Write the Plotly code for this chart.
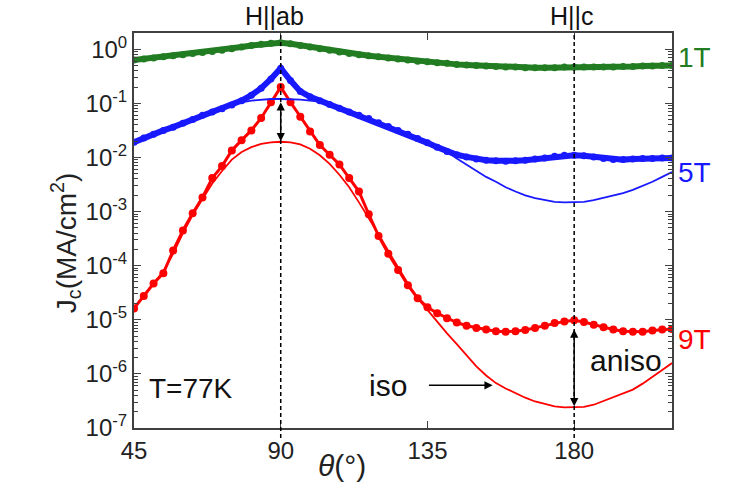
import numpy as np
import plotly.graph_objects as go

# Field angle grid (degrees)
theta = list(range(45, 211, 3))

# log10 of Jc (MA/cm^2), measured data
log_jc_1t = [-0.20, -0.18, -0.16, -0.14, -0.12, -0.10, -0.08, -0.06, -0.04, -0.02,
             0.01, 0.04, 0.07, 0.09, 0.11, 0.12, 0.10, 0.07, 0.04, 0.01,
             -0.02, -0.05, -0.08, -0.10, -0.12, -0.14, -0.16, -0.18, -0.20, -0.22,
             -0.23, -0.25, -0.26, -0.28, -0.29, -0.30, -0.31, -0.32, -0.33, -0.33,
             -0.34, -0.34, -0.34, -0.34, -0.33, -0.33, -0.33, -0.33, -0.33, -0.33,
             -0.32, -0.32, -0.31, -0.31, -0.30, -0.30]

log_jc_5t = [-1.72, -1.64, -1.57, -1.50, -1.44, -1.37, -1.30, -1.22, -1.16, -1.10,
             -1.03, -0.95, -0.85, -0.72, -0.55, -0.35, -0.58, -0.78, -0.88, -0.95,
             -1.02, -1.09, -1.16, -1.22, -1.28, -1.36, -1.43, -1.50, -1.57, -1.65,
             -1.73, -1.81, -1.89, -1.95, -1.99, -2.03, -2.05, -2.06, -2.07, -2.06,
             -2.05, -2.03, -2.01, -1.98, -1.96, -1.96, -1.97, -1.99, -2.02, -2.04,
             -2.04, -2.03, -2.02, -2.02, -2.01, -2.01]

log_jc_9t = [-4.79, -4.56, -4.33, -4.14, -3.72, -3.35, -3.03, -2.74, -2.38, -2.16,
             -1.87, -1.68, -1.50, -1.27, -0.98, -0.70, -0.98, -1.25, -1.52, -1.77,
             -1.95, -2.13, -2.38, -2.63, -3.05, -3.45, -3.78, -4.08, -4.36, -4.60,
             -4.77, -4.88, -4.97, -5.05, -5.11, -5.15, -5.18, -5.21, -5.22, -5.21,
             -5.19, -5.15, -5.11, -5.06, -5.03, -5.01, -5.04, -5.09, -5.14, -5.18,
             -5.21, -5.22, -5.22, -5.20, -5.18, -5.17]

# log10 of Jc, isotropic (fitted) curves
log_iso_5t = [-1.72, -1.64, -1.57, -1.50, -1.44, -1.37, -1.30, -1.22, -1.16, -1.10,
              -1.03, -0.98, -0.95, -0.93, -0.92, -0.92, -0.92, -0.93, -0.95, -0.97,
              -1.02, -1.09, -1.16, -1.22, -1.28, -1.36, -1.43, -1.50, -1.57, -1.65,
              -1.73, -1.81, -1.89, -2.02, -2.13, -2.25, -2.36, -2.45, -2.55, -2.63,
              -2.70, -2.75, -2.79, -2.82, -2.83, -2.83, -2.82, -2.79, -2.75, -2.71,
              -2.66, -2.60, -2.53, -2.45, -2.36, -2.27]

log_iso_9t = [-4.79, -4.56, -4.33, -4.10, -3.78, -3.40, -3.06, -2.78, -2.48, -2.25,
              -2.04, -1.90, -1.81, -1.75, -1.72, -1.71, -1.72, -1.76, -1.84, -1.96,
              -2.12, -2.32, -2.55, -2.83, -3.12, -3.42, -3.73, -4.04, -4.33, -4.60,
              -4.82, -5.04, -5.25, -5.45, -5.66, -5.86, -6.03, -6.17, -6.27, -6.36,
              -6.44, -6.51, -6.56, -6.60, -6.62, -6.62, -6.61, -6.57, -6.50, -6.44,
              -6.37, -6.29, -6.18, -6.06, -5.93, -5.80]

y_tick_exponents = [0, -1, -2, -3, -4, -5, -6, -7]
x_ticks = [45, 90, 135, 180]

GREEN = "rgb(34,125,34)"
BLUE = "rgb(25,25,255)"
RED = "rgb(255,0,0)"
FONT = "Liberation Sans, Arial, sans-serif"

def jc(vals):
    return 10 ** np.array(vals)

fig = go.Figure()

for vals, color, lw, ms in [(log_jc_1t, GREEN, 6, 7), (log_jc_5t, BLUE, 6, 7), (log_jc_9t, RED, 3, 8)]:
    fig.add_trace(go.Scatter(x=theta, y=jc(vals), mode="lines+markers",
                             line=dict(color=color, width=lw),
                             marker=dict(color=color, size=ms, symbol="circle"),
                             showlegend=False))

for vals, color in [(log_iso_5t, BLUE), (log_iso_9t, RED)]:
    fig.add_trace(go.Scatter(x=theta, y=jc(vals), mode="lines",
                             line=dict(color=color, width=1.8),
                             showlegend=False))

# minor log ticks
minor_vals = [k * 10.0 ** e for e in range(-7, 1) for k in range(2, 10) if k * 10.0 ** e < 10 ** 0.3]

axis_common = dict(showline=True, linecolor="#404040", linewidth=2, mirror="ticks",
                   ticks="inside", tickcolor="#404040", showgrid=False, zeroline=False,
                   tickfont=dict(family=FONT, size=24, color="#222"))

fig.update_xaxes(range=[45, 210], tickvals=x_ticks, ticklen=7, **axis_common)
fig.update_yaxes(type="log", range=[-7, 0.3],
                 tickvals=[10.0 ** e for e in y_tick_exponents],
                 ticktext=[f"10<sup>{e}</sup>" for e in y_tick_exponents],
                 ticklen=7,
                 minor=dict(tickvals=minor_vals, ticks="inside", ticklen=4, tickcolor="#404040"),
                 **axis_common)

# field-orientation markers
for xv in [90, 180]:
    fig.add_shape(type="line", xref="x", yref="paper", x0=xv, x1=xv, y0=-0.025, y1=1,
                  line=dict(color="black", width=1.5, dash="4px,3px"))

ann = []
ann.append(dict(x=90, y=1.043, xref="x", yref="paper", text="H||ab", showarrow=False,
                xshift=-6, yanchor="middle", font=dict(family=FONT, size=25, color="#111")))
ann.append(dict(x=180, y=1.043, xref="x", yref="paper", text="H||c", showarrow=False,
                xshift=-2, yanchor="middle", font=dict(family=FONT, size=25, color="#111")))

for txt, yv, color in [("1T", -0.15, GREEN), ("5T", -2.27, BLUE), ("9T", -5.36, RED)]:
    ann.append(dict(x=1, xref="paper", y=yv, yref="y", text=txt, showarrow=False,
                    xanchor="left", xshift=4, font=dict(family=FONT, size=28, color=color)))

ann.append(dict(x=62.6, y=-6.27, text="T=77K", showarrow=False,
                font=dict(family=FONT, size=28, color="#111")))
ann.append(dict(x=123, y=-6.21, text="iso", showarrow=False,
                font=dict(family=FONT, size=30, color="#111")))
ann.append(dict(x=195.8, y=-5.75, text="aniso", showarrow=False,
                font=dict(family=FONT, size=30, color="#111")))

# arrows
ann.append(dict(x=155, y=-6.21, ax=135, ay=-6.21, axref="x", ayref="y", text="",
                showarrow=True, arrowhead=2, arrowsize=1.1, arrowwidth=1.5, arrowcolor="black"))
ann.append(dict(x=90, y=-1.70, ax=90, ay=-0.95, axref="x", ayref="y", text="",
                showarrow=True, arrowhead=2, startarrowhead=2, arrowside="end+start",
                arrowsize=1.1, arrowwidth=1.5, arrowcolor="black"))
ann.append(dict(x=180, y=-6.60, ax=180, ay=-5.15, axref="x", ayref="y", text="",
                showarrow=True, arrowhead=2, startarrowhead=2, arrowside="end+start",
                arrowsize=1.1, arrowwidth=1.5, arrowcolor="black"))

# axis titles
ann.append(dict(x=(66 - 134) / 538, y=0.468, xref="paper", yref="paper",
                text="J<sub>c</sub>(MA/cm<sup>2</sup>)", textangle=-90, showarrow=False,
                xanchor="center", yanchor="middle",
                font=dict(family=FONT, size=28, color="#222")))
ann.append(dict(x=0.387, y=-0.094, xref="paper", yref="paper",
                text="<i>θ</i>(°)", showarrow=False, xanchor="center", yanchor="middle",
                font=dict(family=FONT, size=30, color="#222")))

fig.update_layout(width=730, height=491, margin=dict(l=134, r=58, t=33, b=63),
                  plot_bgcolor="white", paper_bgcolor="white", annotations=ann,
                  showlegend=False)

fig.write_html("out.html")
